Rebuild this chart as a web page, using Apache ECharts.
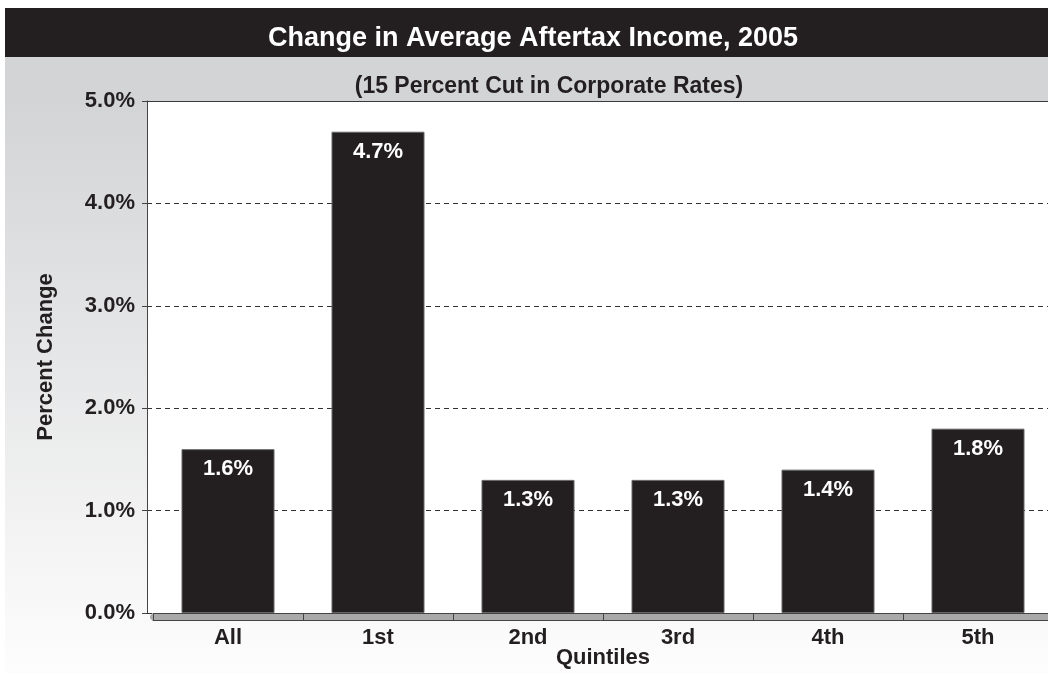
<!DOCTYPE html>
<html>
<head>
<meta charset="utf-8">
<script src="https://cdn.jsdelivr.net/npm/echarts@6/dist/echarts.min.js"></script>
<style>
  html, body { margin: 0; padding: 0; background: #fff; }
  #chart { width: 1048px; height: 673px; }
</style>
</head>
<body>
<div id="chart"></div>
<script>
// Chart data
var titleText = 'Change in Average Aftertax Income, 2005';
var subtitleText = '(15 Percent Cut in Corporate Rates)';
var categories = ['All', '1st', '2nd', '3rd', '4th', '5th'];
var percentChange = [1.6, 4.7, 1.3, 1.3, 1.4, 1.8];
var yTicks = [0, 1, 2, 3, 4, 5];
var yAxisName = 'Percent Change';
var xAxisName = 'Quintiles';

var FONT = '"Liberation Sans", Arial, sans-serif';
var INK = '#231f20';

var chart = echarts.init(document.getElementById('chart'), null, { renderer: 'canvas' });

var option = {
  backgroundColor: '#ffffff',
  animation: false,
  graphic: [
    {
      type: 'rect', z: -100, silent: true,
      shape: { x: 5, y: 57, width: 1043, height: 616 },
      style: {
        fill: {
          type: 'linear', x: 0, y: 0, x2: 0, y2: 1,
          colorStops: [
            { offset: 0, color: '#d3d4d6' },
            { offset: 0.07, color: '#d3d4d6' },
            { offset: 1, color: '#fdfdfd' }
          ]
        }
      }
    },
    {
      type: 'rect', z: -99, silent: true,
      shape: { x: 5, y: 8, width: 1043, height: 49 },
      style: { fill: INK }
    }
  ],
  title: [
    {
      text: titleText, left: 528, top: 20, textAlign: 'center',
      textStyle: { color: '#ffffff', fontSize: 27, fontWeight: 'bold', fontFamily: FONT }
    },
    {
      text: subtitleText, left: 544, top: 70, textAlign: 'center',
      textStyle: { color: INK, fontSize: 23, fontWeight: 'bold', fontFamily: FONT }
    }
  ],
  grid: [
    // plot background, value axis and gridlines
    { left: 147, top: 101, width: 920, height: 512, outerBoundsMode: 'none', containLabel: false,
      show: true, backgroundColor: '#ffffff', borderWidth: 0 },
    // bars and category axis
    { left: 153, top: 101, width: 900, height: 512, outerBoundsMode: 'none', containLabel: false }
  ],
  xAxis: [
    {
      // solid frame line along the top of the plot
      gridIndex: 0, type: 'category', data: categories, position: 'top', z: 10,
      axisLine: { show: true, onZero: false, lineStyle: { color: '#3a3a3a', width: 1 } },
      axisTick: { show: false }, axisLabel: { show: false }, splitLine: { show: false }
    },
    {
      gridIndex: 1, type: 'category', data: categories, position: 'bottom',
      axisLine: { show: true, onZero: false, lineStyle: { color: '#444', width: 1 } },
      axisTick: { show: false }, axisLabel: { show: false }
    },
    {
      gridIndex: 1, type: 'category', data: categories, position: 'bottom', offset: 3.5,
      axisLine: { show: true, onZero: false, lineStyle: { color: '#a9a9a9', width: 6 } },
      axisTick: { show: false }, axisLabel: { show: false }
    },
    {
      gridIndex: 1, type: 'category', data: categories, position: 'bottom', offset: 7,
      axisLine: { show: true, onZero: false, lineStyle: { color: '#444', width: 1 } },
      axisTick: { show: true, inside: true, length: 7, lineStyle: { color: '#444', width: 1 } },
      axisLabel: { color: INK, fontSize: 22, fontWeight: 'bold', fontFamily: FONT, margin: 7 },
      name: xAxisName, nameLocation: 'middle', nameGap: 27, nameMoveOverlap: false,
      nameTextStyle: { color: INK, fontSize: 22, fontWeight: 'bold', fontFamily: FONT }
    }
  ],
  yAxis: [
    {
      gridIndex: 0, type: 'value',
      min: yTicks[0], max: yTicks[yTicks.length - 1], interval: 1,
      axisLine: { show: true, onZero: false, lineStyle: { color: '#444', width: 1 } },
      axisTick: { show: true, length: 5, lineStyle: { color: '#444' } },
      axisLabel: {
        color: INK, fontSize: 22, fontWeight: 'bold', fontFamily: FONT, margin: 12,
        formatter: function (v) { return v.toFixed(1) + '%'; }
      },
      splitLine: { show: true, lineStyle: { color: '#333', width: 1, type: [5, 4] } },
      name: yAxisName, nameLocation: 'middle', nameGap: 90, nameMoveOverlap: false,
      nameTextStyle: { color: INK, fontSize: 22, fontWeight: 'bold', fontFamily: FONT }
    },
    {
      gridIndex: 1, type: 'value',
      min: yTicks[0], max: yTicks[yTicks.length - 1], interval: 1, show: false
    }
  ],
  series: [
    {
      type: 'bar', xAxisIndex: 1, yAxisIndex: 1,
      data: percentChange, barWidth: 93,
      itemStyle: { color: INK, borderColor: '#666', borderWidth: 1 },
      label: {
        show: true, position: 'insideTop', distance: 9,
        color: '#ffffff', fontSize: 22, fontWeight: 'bold', fontFamily: FONT,
        formatter: function (p) { return p.value.toFixed(1) + '%'; }
      }
    }
  ]
};

chart.setOption(option);
</script>
</body>
</html>
